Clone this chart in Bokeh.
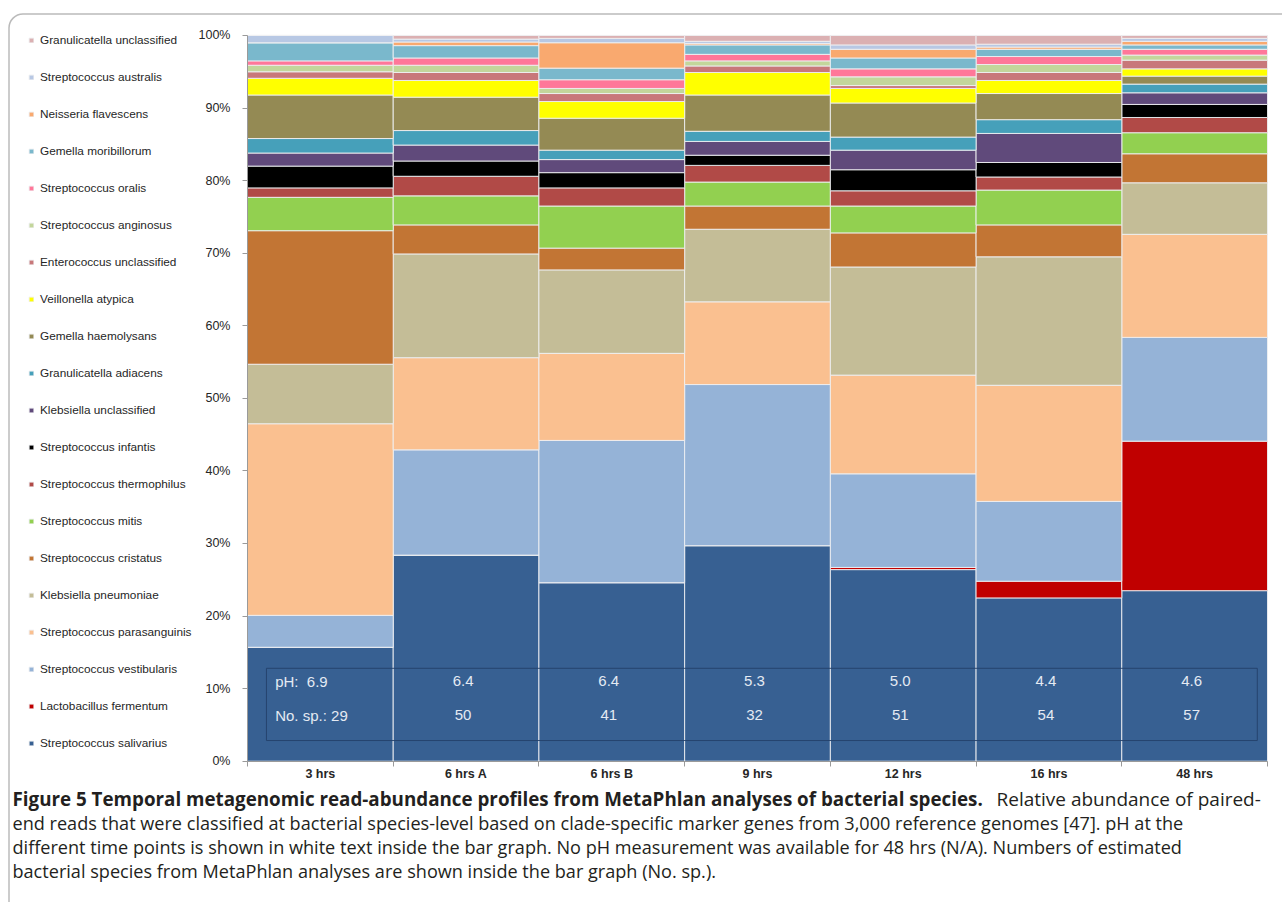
from bokeh.plotting import figure
from bokeh.models import (FixedTicker, Legend, LegendItem, Label, BoxAnnotation,
                          ColumnDataSource, Range1d, LinearAxis)
from bokeh.embed import file_html
from bokeh.resources import INLINE
from bokeh.core.properties import value

# ---------------- data ----------------
times = ["3 hrs", "6 hrs A", "6 hrs B", "9 hrs", "12 hrs", "16 hrs", "48 hrs"]
ph_values = ["6.9", "6.4", "6.4", "5.3", "5.0", "4.4", "4.6"]
species_counts = ["29", "50", "41", "32", "51", "54", "57"]

# species, bottom of stack first
species = [
    "Streptococcus salivarius",
    "Lactobacillus fermentum",
    "Streptococcus vestibularis",
    "Streptococcus parasanguinis",
    "Klebsiella pneumoniae",
    "Streptococcus cristatus",
    "Streptococcus mitis",
    "Streptococcus thermophilus",
    "Streptococcus infantis",
    "Klebsiella unclassified",
    "Granulicatella adiacens",
    "Gemella haemolysans",
    "Veillonella atypica",
    "Enterococcus unclassified",
    "Streptococcus anginosus",
    "Streptococcus oralis",
    "Gemella moribillorum",
    "Neisseria flavescens",
    "Streptococcus australis",
    "Granulicatella unclassified",
]

s_salivarius = [15.7, 28.4, 24.6, 29.7, 26.4, 22.5, 23.5]
l_fermentum = [0.0, 0.0, 0.0, 0.0, 0.3, 2.3, 20.6]
s_vestibularis = [4.4, 14.5, 19.6, 22.2, 12.9, 11.0, 14.3]
s_parasanguinis = [26.4, 12.7, 12.0, 11.4, 13.6, 16.0, 14.2]
k_pneumoniae = [8.2, 14.3, 11.5, 10.0, 14.9, 17.7, 7.1]
s_cristatus = [18.4, 4.0, 3.0, 3.2, 4.7, 4.4, 4.0]
s_mitis = [4.6, 4.0, 5.8, 3.3, 3.7, 4.8, 2.9]
s_thermophilus = [1.3, 2.7, 2.5, 2.3, 2.1, 1.8, 2.1]
s_infantis = [3.0, 2.1, 2.1, 1.4, 2.9, 2.0, 1.8]
k_unclassified = [1.8, 2.2, 1.8, 1.9, 2.7, 4.0, 1.6]
g_adiacens = [2.0, 2.0, 1.3, 1.4, 1.8, 1.9, 1.2]
g_haemolysans = [6.0, 4.6, 4.4, 5.0, 4.7, 3.6, 1.1]
v_atypica = [2.3, 2.3, 2.3, 3.1, 2.0, 1.8, 1.0]
e_unclassified = [0.9, 1.1, 1.1, 0.9, 0.4, 1.1, 1.2]
s_anginosus = [0.9, 1.0, 0.7, 0.7, 1.2, 1.1, 0.7]
s_oralis = [0.6, 1.0, 1.2, 0.9, 1.1, 1.1, 0.8]
g_moribillorum = [2.5, 1.7, 1.6, 1.3, 1.5, 1.0, 0.6]
n_flavescens = [0.0, 0.5, 3.5, 0.2, 1.2, 0.3, 0.5]
s_australis = [1.0, 0.4, 0.6, 0.3, 0.6, 0.4, 0.4]
g_unclassified = [0.0, 0.5, 0.4, 0.8, 1.3, 1.2, 0.4]

series = [s_salivarius, l_fermentum, s_vestibularis, s_parasanguinis, k_pneumoniae,
          s_cristatus, s_mitis, s_thermophilus, s_infantis, k_unclassified,
          g_adiacens, g_haemolysans, v_atypica, e_unclassified, s_anginosus,
          s_oralis, g_moribillorum, n_flavescens, s_australis, g_unclassified]

colors = ["#376092", "#C00000", "#95B3D7", "#FAC090", "#C4BD97",
          "#C27534", "#92D050", "#B14A47", "#000000", "#604A7B",
          "#46A0BA", "#948A54", "#FFFF00", "#C8787A", "#C3D69B",
          "#FF7799", "#7AB8CC", "#F9A96F", "#B8C8E4", "#DBB0B2"]

# ---------------- figure ----------------
FONT = "Liberation Sans"
CAP_FONT = "Open Sans"
W, H = 1282, 902

# the frame fills the whole canvas; the data ranges leave room for legend and caption
p = figure(width=W, height=H, x_range=Range1d(-1.6951, 7.1029),
           y_range=Range1d(-19.47, 104.82),
           output_backend="svg", toolbar_location=None,
           x_axis_location=None, y_axis_location=None,
           min_border=0)
p.outline_line_color = None
p.xgrid.visible = False
p.ygrid.visible = False
p.background_fill_color = "white"
p.border_fill_color = "white"

centers = [i + 0.5 for i in range(len(times))]
data = {"x": centers}
for name, vals in zip(species, series):
    data[name] = vals
src = ColumnDataSource(data)

renderers = p.vbar_stack(species, x="x", width=1.0, source=src, color=colors,
                         line_color="#EEF0F2", line_width=1, line_alpha=0.9)

# axes (fixed inside the frame)
yax = LinearAxis(fixed_location=0, bounds=(0, 100))
yax.ticker = FixedTicker(ticks=list(range(0, 101, 10)))
yax.major_label_overrides = {t: f"{t}%" for t in range(0, 101, 10)}
yax.axis_line_color = "#9a9a9a"
yax.major_tick_line_color = "#9a9a9a"
yax.major_tick_in = 0
yax.major_tick_out = 5
yax.minor_tick_line_color = None
yax.major_label_text_font = FONT
yax.major_label_text_font_size = "12.5px"
yax.major_label_text_color = "#262626"
yax.major_label_standoff = 12
p.add_layout(yax, "left")

xax = LinearAxis(fixed_location=0, bounds=(0, 7))
xax.ticker = FixedTicker(ticks=centers, minor_ticks=list(range(len(times) + 1)))
xax.major_label_overrides = {c: t for c, t in zip(centers, times)}
xax.axis_line_color = "#9a9a9a"
xax.major_tick_line_color = None
xax.major_tick_in = 0
xax.major_tick_out = 0
xax.minor_tick_line_color = "#9a9a9a"
xax.minor_tick_in = 0
xax.minor_tick_out = 5
xax.major_label_text_font = FONT
xax.major_label_text_font_style = "bold"
xax.major_label_text_font_size = "12.5px"
xax.major_label_text_color = "#262626"
xax.major_label_standoff = 1
p.add_layout(xax, "below")

# legend (top = last stacked)
items = [LegendItem(label=name, renderers=[r]) for name, r in zip(species, renderers)][::-1]
legend = Legend(items=items, location=(28, 152), glyph_width=6, glyph_height=6,
                label_height=13, spacing=23, padding=0, margin=0, label_standoff=6,
                label_text_font=FONT, label_text_font_size="11.8px",
                label_text_color="#262626", background_fill_alpha=0,
                border_line_alpha=0)
p.add_layout(legend)

# pH / No. sp. box and texts
BOX = dict(left=0.13, right=6.93, bottom=2.85, top=12.8)
p.add_layout(BoxAnnotation(**BOX, fill_alpha=0, line_color="#24406a", line_width=1,
                           line_alpha=0.9))
PH_Y = 11.0
SP_Y = 6.3
TEXT_COLOR = "#E4EAF3"
tsrc = ColumnDataSource(dict(x=centers[1:], ph=ph_values[1:], sp=species_counts[1:]))
for col, yy in (("ph", PH_Y), ("sp", SP_Y)):
    p.text(x="x", y=yy, text=col, source=tsrc, text_align="center",
           text_baseline="middle", text_color=TEXT_COLOR, text_font=value(FONT),
           text_font_size="15px", x_offset=-3)
FIRST_X = 0.19
p.text(x=[FIRST_X], y=[PH_Y], text=[f"pH:\u00a0 {ph_values[0]}"], text_align="left",
       text_baseline="middle", text_color=TEXT_COLOR, text_font=value(FONT),
       text_font_size="15px")
p.text(x=[FIRST_X], y=[SP_Y], text=[f"No. sp.: {species_counts[0]}"], text_align="left",
       text_baseline="middle", text_color=TEXT_COLOR, text_font=value(FONT),
       text_font_size="15px")

# caption
CAP_X = 12
CAP_COLOR = "#231F20"
cap_bold = "Figure 5 Temporal metagenomic read-abundance profiles from MetaPhlan analyses of bacterial species."
cap_lines = [
    "Relative abundance of paired-",
    "end reads that were classified at bacterial species-level based on clade-specific marker genes from 3,000 reference genomes [47]. pH at the",
    "different time points is shown in white text inside the bar graph. No pH measurement was available for 48 hrs (N/A). Numbers of estimated",
    "bacterial species from MetaPhlan analyses are shown inside the bar graph (No. sp.).",
]
line_y = [104, 80, 56, 32]
p.add_layout(Label(x=CAP_X, y=line_y[0], x_units="screen", y_units="screen",
                   text=cap_bold, text_font=CAP_FONT, text_font_size="18.8px",
                   text_font_style="bold", text_color=CAP_COLOR, text_baseline="middle"))
p.add_layout(Label(x=996, y=line_y[0], x_units="screen", y_units="screen",
                   text=cap_lines[0], text_font=CAP_FONT, text_font_size="19px",
                   text_color=CAP_COLOR, text_baseline="middle"))
for t, yy in zip(cap_lines[1:], line_y[1:]):
    p.add_layout(Label(x=CAP_X, y=yy, x_units="screen", y_units="screen",
                       text=t, text_font=CAP_FONT, text_font_size="18.1px",
                       text_color=CAP_COLOR, text_baseline="middle"))

# outer rounded frame
p.add_layout(BoxAnnotation(left=8.5, right=1330, bottom=-60, top=H - 13.5,
                           left_units="screen", right_units="screen",
                           bottom_units="screen", top_units="screen",
                           fill_alpha=0, line_color="#1a1a1a", line_width=1.5,
                           border_radius=14))

open("out.html", "w").write(file_html(p, INLINE))
